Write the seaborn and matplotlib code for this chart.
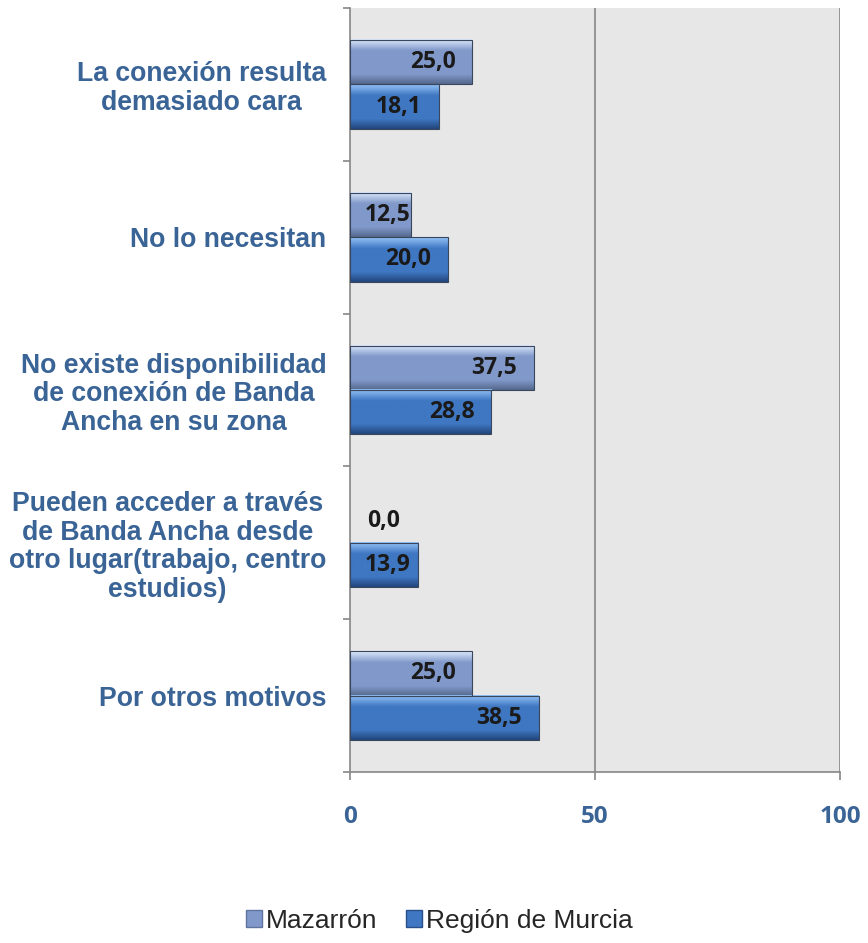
import numpy as np
import pandas as pd
import matplotlib
matplotlib.use("Agg")
import matplotlib.pyplot as plt
import matplotlib.colors as mcolors
from matplotlib.patches import Patch
import seaborn as sns

# -----------------------------------------------------
# Datos
# -----------------------------------------------------
motivos = [
    "La conexión resulta\ndemasiado cara",
    "No lo necesitan",
    "No existe disponibilidad\nde conexión de Banda\nAncha en su zona",
    "Pueden acceder a través\nde Banda Ancha desde\notro lugar(trabajo, centro\nestudios)",
    "Por otros motivos",
]
series = ["Mazarrón", "Región de Murcia"]
mazarron = [25.0, 12.5, 37.5, 0.0, 25.0]
murcia = [18.1, 20.0, 28.8, 13.9, 38.5]
xticks = [0, 50, 100]

df = pd.DataFrame({
    "motivo": motivos * 2,
    "serie": [series[0]] * len(motivos) + [series[1]] * len(motivos),
    "valor": mazarron + murcia,
})

# colores (brillo superior, cuerpo, sombra inferior)
col_maz = ["#DCE8FC", "#8199CA", "#56698F"]
col_mur = ["#93C2F7", "#3F77C2", "#22467D"]
blue_txt = "#3A6496"
grey = "#868686"

sns.set_style("white")

fig = plt.figure(figsize=(8.68, 9.43), dpi=100)
ax = fig.add_axes([0.4032, 0.1813, 0.5645, 0.8102])
ax.set_facecolor("#E7E7E7")

sns.barplot(
    data=df, x="valor", y="motivo", hue="serie",
    orient="h", order=motivos, hue_order=series,
    palette=[col_maz[1], col_mur[1]],
    width=0.58, ax=ax, legend=False,
)


def gradient(cols):
    c0, c1, c2 = [np.array(mcolors.to_rgb(c)) for c in cols]
    n = 60
    rows = []
    for i in range(n):
        t = i / (n - 1)
        if t < 0.25:
            rows.append(c0 + (c1 - c0) * (t / 0.25))
        elif t < 0.78:
            rows.append(c1)
        else:
            rows.append(c1 + (c2 - c1) * ((t - 0.78) / 0.22))
    return np.array(rows).reshape(n, 1, 3)


for cont, cols in zip(ax.containers, [col_maz, col_mur]):
    grad = gradient(cols)
    for p in cont.patches:
        x0, y0 = p.get_x(), p.get_y()
        w, h = p.get_width(), p.get_height()
        if w <= 0:
            p.set_visible(False)
            continue
        ax.imshow(grad, extent=(x0, x0 + w, y0 + h, y0), origin="upper",
                  aspect="auto", zorder=2.5, interpolation="bilinear")
        p.set_facecolor("none")
        p.set_edgecolor("#3A465C")
        p.set_linewidth(0.8)
        p.set_zorder(3)

# etiquetas de valor
for cont in ax.containers:
    for p in cont.patches:
        v = p.get_width()
        yc = p.get_y() + p.get_height() / 2
        txt = f"{v:.1f}".replace(".", ",")
        if v <= 0:
            ax.text(3.4, yc, txt, ha="left", va="center", fontsize=16.5,
                    fontweight="bold", color="#1A1A1A", family="Open Sans",
                    zorder=4)
        else:
            xt = max(v - 3.4, min(v, 12.4))
            ax.text(xt, yc, txt, ha="right", va="center", fontsize=16.5,
                    fontweight="bold", color="#1A1A1A", family="Open Sans",
                    zorder=4)

# ejes
ax.set_xlim(0, 100)
ax.set_ylim(len(motivos) - 0.5, -0.5)
ax.set_xlabel("")
ax.set_ylabel("")

for xv in xticks[1:]:
    ax.axvline(xv, color=grey, lw=1.2, zorder=1)

for s in ["top", "right"]:
    ax.spines[s].set_visible(False)
for s in ["left", "bottom"]:
    ax.spines[s].set_color(grey)
    ax.spines[s].set_linewidth(1.2)

ax.set_xticks(xticks)
ax.set_xticklabels([str(t) for t in xticks], fontsize=17.5, fontweight="bold",
                   color=blue_txt, family="Open Sans")
ax.tick_params(axis="x", direction="out", length=6, width=1.2, color=grey,
               pad=18, bottom=True)

ax.set_yticks(range(len(motivos)))
ax.set_yticklabels(motivos, fontsize=19.2, fontweight="bold", color=blue_txt,
                   family="Liberation Sans", linespacing=1.12)
for lab in ax.get_yticklabels():
    lab.set_multialignment("center")
ax.tick_params(axis="y", which="major", length=0, pad=17)
ax.set_yticks(np.arange(-0.5, len(motivos), 1), minor=True)
ax.tick_params(axis="y", which="minor", direction="out", length=5, width=1.2,
               color=grey, left=True)

# leyenda
handles = [
    Patch(facecolor=col_maz[1], edgecolor="#5E749F", label=series[0]),
    Patch(facecolor=col_mur[1], edgecolor="#284F8A", label=series[1]),
]
fig.legend(handles=handles, loc="center", bbox_to_anchor=(0.506, 0.0235),
           ncol=2, frameon=False, handlelength=0.6, handleheight=0.6,
           handletextpad=0.15, columnspacing=1.1,
           prop={"family": "Liberation Sans", "size": 19})

fig.savefig("out.png", dpi=100)
